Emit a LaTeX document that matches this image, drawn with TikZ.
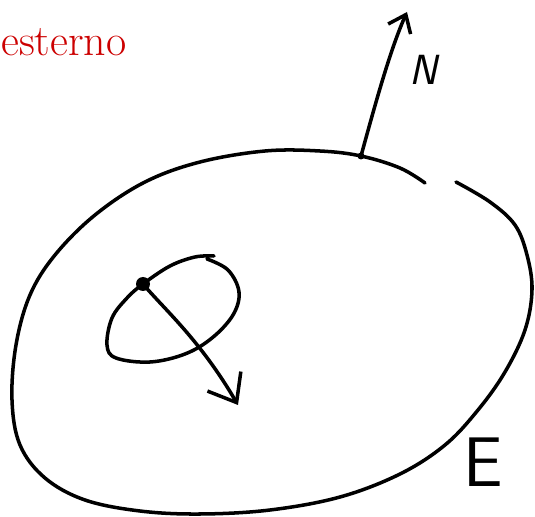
\documentclass[tikz,border=0pt]{standalone}
\usetikzlibrary{arrows.meta}
\definecolor{penred}{RGB}{204,0,0}
\begin{document}
\begin{tikzpicture}[x=0.02cm,y=-0.02cm,
  pen/.style={line width=2pt,line cap=round,line join=round},
  barb/.style={-{Straight Barb[length=14pt,width=22pt,line width=2pt]}},
  smallbarb/.style={-{Straight Barb[length=9pt,width=14pt,line width=2pt]}},
  lbl/.style={font=\sffamily\fontsize{#1}{#1}\selectfont, inner sep=0pt}]
\useasboundingbox (0,0) rectangle (535,517);
% red label
\node[anchor=base west, text=penred, font=\fontsize{25}{25}\selectfont, inner sep=0pt] (ext) at (1,56) {esterno};
% big region
\draw[pen] plot[smooth,tension=0.6] coordinates {(456,182) (490,202) (515,225) (527,255) (532,290) (525,330) (505,372) (478,410) (445,445) (400,474) (340,497) (270,510) (200,514) (140,511) (85,500) (45,478) (20,445) (12,400) (16,345) (30,295) (55,255) (95,215) (145,182) (200,162) (265,151) (320,151) (361,156) (400,168) (425,183)};
% normal vector
\coordinate (p) at (361,156);
\coordinate (ntip) at (407,12);
\fill (p) circle (3.5);
\draw[pen,smallbarb] (p) .. controls (375,105) and (390,50) .. (ntip);
\node[font=\sffamily\itshape\fontsize{24}{24}\selectfont, inner sep=0pt] (N) at (423,70) {N};
% small loop
\coordinate (q) at (143,284);
\draw[pen] plot[smooth,tension=0.6] coordinates {(207,259) (228,270) (239,292) (233,315) (212,338) (185,354) (150,362) (116,358) (107,345) (112,318) (127,298) (143,284) (170,266) (195,257) (214,256)};
\fill (q) circle (7);
\coordinate (qtip) at (238,405);
\draw[pen,barb] (q) .. controls (165,310) and (200,340) .. (qtip);
\node[lbl=40] (E) at (483,462) {E};
\end{tikzpicture}
\end{document}
